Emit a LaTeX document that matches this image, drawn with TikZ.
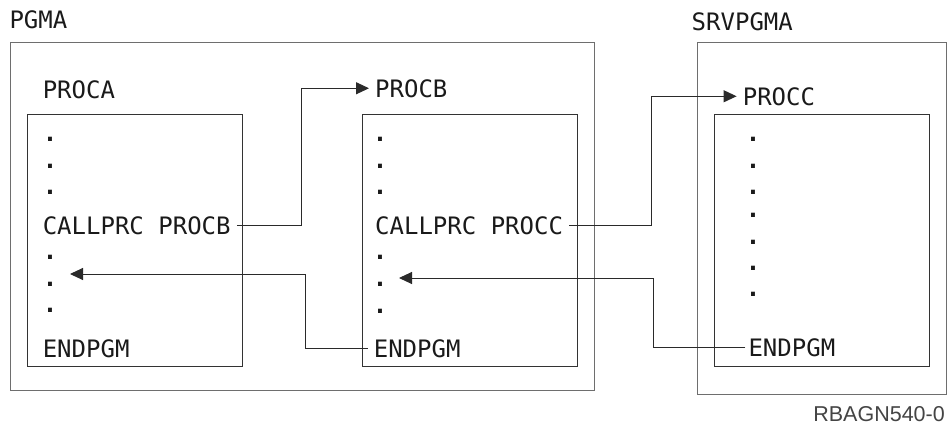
\documentclass[tikz,border=0pt]{standalone}
\usepackage{fontspec}
\setmonofont{DejaVu Sans Mono}
\newfontfamily\figlabelfont{Liberation Sans}
\usetikzlibrary{arrows.meta}
\definecolor{ink}{HTML}{1A1A1A}
\definecolor{outergray}{HTML}{6E6E6E}
\definecolor{innergray}{HTML}{333333}
\definecolor{conngray}{HTML}{2A2A2A}
\definecolor{figgray}{HTML}{444444}
\begin{document}
\begin{tikzpicture}[x=1pt,y=-1pt,
  txt/.style={font=\ttfamily\fontsize{24}{28}\selectfont, text=ink, inner xsep=6pt, inner ysep=0pt, anchor=base west},
  dotc/.style={font=\ttfamily\bfseries\fontsize{24}{28}\selectfont, text=ink, inner sep=0pt, anchor=center},
  outerbox/.style={draw=outergray, line width=1.4pt, anchor=north west, inner sep=0pt},
  innerbox/.style={draw=innergray, line width=1pt, anchor=north west, inner sep=0pt},
  conn/.style={draw=conngray, line width=1pt},
  arr/.style={conn, -{Triangle[length=13pt,width=12pt]}}]
\useasboundingbox (0,0) rectangle (947,434);

% containers
\node[outerbox, minimum width=584pt, minimum height=348pt] (pgma) at (10,42) {};
\node[outerbox, minimum width=249pt, minimum height=352pt] (srvpgma) at (697,42) {};
\node[innerbox, minimum width=215pt, minimum height=252pt] (boxA) at (27,114) {};
\node[innerbox, minimum width=215pt, minimum height=252pt] (boxB) at (362,114) {};
\node[innerbox, minimum width=215pt, minimum height=252pt] (boxC) at (714,114) {};

% labels
\node[txt] (lpgma) at (3.3,28) {PGMA};
\node[txt] (lsrv) at (685.5,30) {SRVPGMA};
\node[txt] (procA) at (36.6,98) {PROCA};
\node[txt] (procB) at (369,97) {PROCB};
\node[txt] (procC) at (736.6,105) {PROCC};

% PROCA body
\node[dotc] (a1) at (50,139) {.};
\node[dotc] (a2) at (50,166) {.};
\node[dotc] (a3) at (50,192) {.};
\node[txt] (callA) at (36.6,234) {CALLPRC PROCB};
\node[dotc] (a4) at (50,257) {.};
\node[dotc] (a5) at (50,284) {.};
\node[dotc] (a6) at (50,310) {.};
\node[txt] (endA) at (36.6,357) {ENDPGM};

% PROCB body
\node[dotc] (b1) at (380,139) {.};
\node[dotc] (b2) at (380,166) {.};
\node[dotc] (b3) at (380,192) {.};
\node[txt] (callB) at (369,234) {CALLPRC PROCC};
\node[dotc] (b4) at (380,257) {.};
\node[dotc] (b5) at (380,284) {.};
\node[dotc] (b6) at (380,311) {.};
\node[txt] (endB) at (367.6,357) {ENDPGM};

% PROCC body
\node[dotc] (c1) at (753,139) {.};
\node[dotc] (c2) at (753,166) {.};
\node[dotc] (c3) at (753,192) {.};
\node[dotc] (c4) at (753,215) {.};
\node[dotc] (c5) at (753,242) {.};
\node[dotc] (c6) at (753,268) {.};
\node[dotc] (c7) at (753,294) {.};
\node[txt, inner xsep=3pt] (endC) at (745.3,356) {ENDPGM};

% figure id
\node[font=\figlabelfont\fontsize{21.5}{24}\selectfont, text=figgray, inner sep=0pt, anchor=base east] (figid) at (945,421) {RBAGN540-0};

% bend and tip points
\coordinate (bend1) at (301,0);
\coordinate (bend2) at (305,0);
\coordinate (bend3) at (651,0);
\coordinate (bend4) at (653,0);
\coordinate (tipA) at (70,274);
\coordinate (tipB) at (399,278);

% connectors
\draw[arr] (callA.east) -| (bend1 |- procB.west) -- (procB.west);
\draw[arr] (endB.west) -| (bend2 |- tipA) -- (tipA);
\draw[arr] (callB.east) -| (bend3 |- procC.west) -- (procC.west);
\draw[arr] (endC.west) -| (bend4 |- tipB) -- (tipB);
\end{tikzpicture}
\end{document}
